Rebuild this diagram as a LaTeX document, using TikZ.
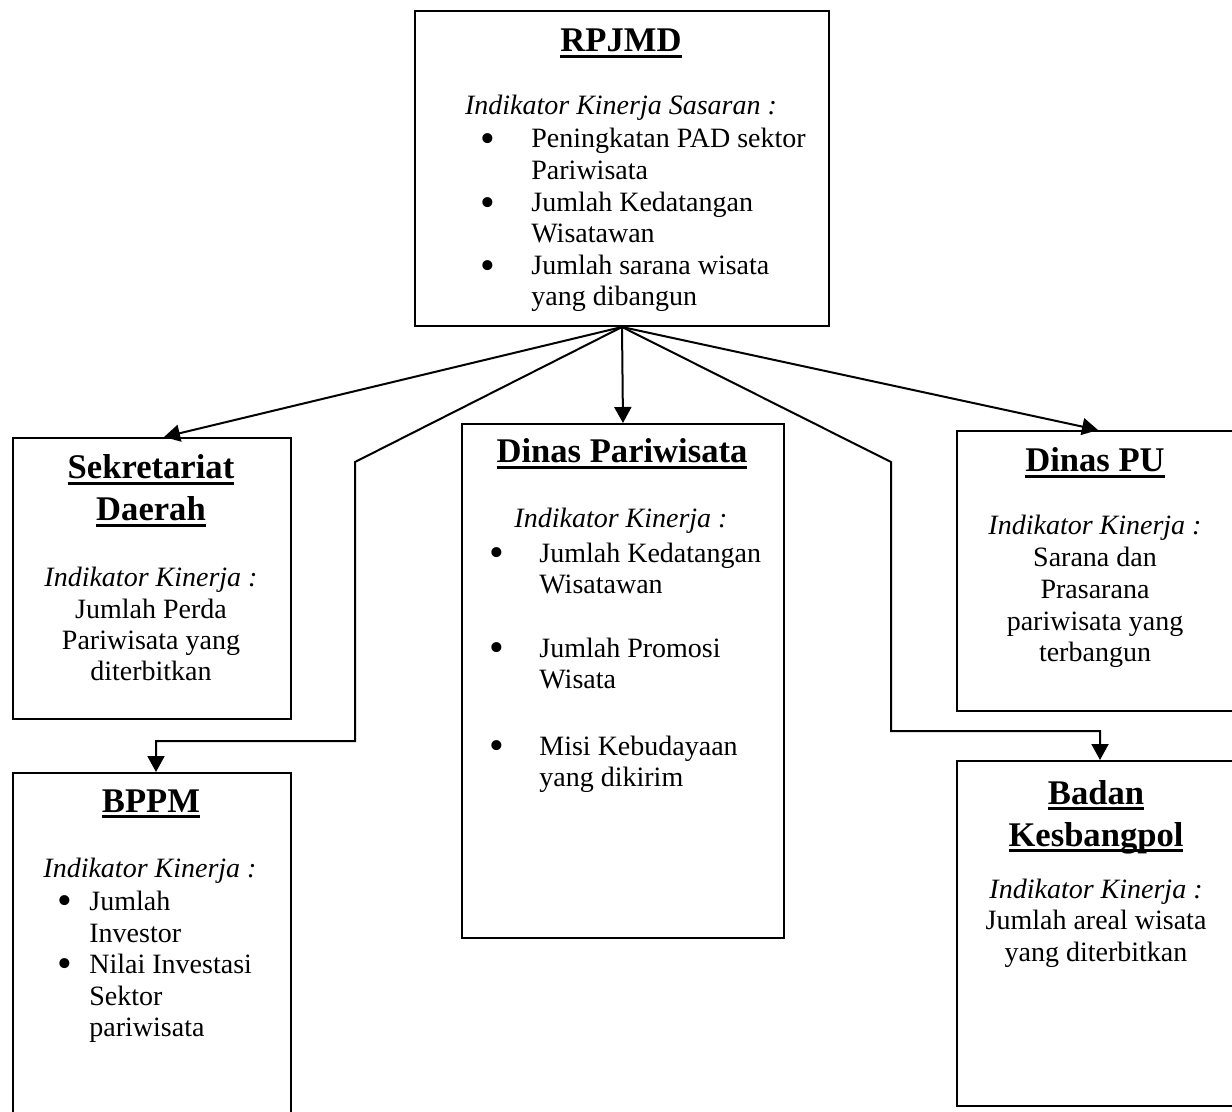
\documentclass[tikz,border=0pt]{standalone}
\usepackage{fontspec}
\setmainfont{Liberation Serif}
\usetikzlibrary{arrows.meta}

% bold heading with a heavier underline
\newcommand{\headul}[1]{\setbox0\hbox{\bfseries #1}\rlap{\rule[-2.8pt]{\wd0}{1.2pt}}\box0}

\tikzset{
  box/.style={draw, line width=1pt, inner sep=0pt, anchor=north west},
  conn/.style={line width=1pt, -{Triangle[length=8pt,width=8.5pt]}},
  ttl/.style={anchor=base, inner sep=0pt, font=\fontsize{17.3}{20}\selectfont},
  txt/.style={anchor=base, inner sep=0pt, font=\fontsize{14}{16}\selectfont},
  itx/.style={anchor=base, inner sep=0pt, font=\fontsize{14}{16}\selectfont\itshape},
  ltx/.style={anchor=base west, inner sep=0pt, font=\fontsize{14}{16}\selectfont},
  bul/.style={anchor=base, inner sep=0pt, yshift=-2.4pt, font=\fontsize{21}{21}\selectfont},
}

\begin{document}
\begin{tikzpicture}[x=0.5pt, y=-0.5pt]
\useasboundingbox (0,0) rectangle (1232,1112);
\clip (0,0) rectangle (1232,1112);

% ---------- boxes ----------
\node[box, minimum width=207pt, minimum height=157.5pt] (rpjmd) at (414,10) {};
\node[box, minimum width=139pt, minimum height=140.5pt] (sekda) at (12,437) {};
\node[box, minimum width=139pt, minimum height=190pt] (bppm) at (12,772) {};
\node[box, minimum width=161pt, minimum height=257pt] (dispar) at (461,423) {};
\node[box, minimum width=152pt, minimum height=140pt] (pu) at (956,430) {};
\node[box, minimum width=152pt, minimum height=172.5pt] (kesb) at (956,760) {};

% ---------- RPJMD ----------
\node[ttl] (r-t) at (621,52) {\headul{RPJMD}};
\node[itx] (r-i) at (621,115) {Indikator Kinerja Sasaran :};
\node[bul] (r-b1) at (488,148) {•};
\node[bul] (r-b2) at (488,212) {•};
\node[bul] (r-b3) at (488,275) {•};
\node[ltx] (r-1) at (531,148) {Peningkatan PAD sektor};
\node[ltx] (r-2) at (531,180) {Pariwisata};
\node[ltx] (r-3) at (531,212) {Jumlah Kedatangan};
\node[ltx] (r-4) at (531,243) {Wisatawan};
\node[ltx] (r-5) at (531,275) {Jumlah sarana wisata};
\node[ltx] (r-6) at (531,306) {yang dibangun};

% ---------- Sekretariat Daerah ----------
\node[ttl] (s-t1) at (151,479) {\headul{Sekretariat}};
\node[ttl] (s-t2) at (151,521) {\headul{Daerah}};
\node[itx] (s-i) at (151,587) {Indikator Kinerja :};
\node[txt] (s-1) at (151,618) {Jumlah Perda};
\node[txt] (s-2) at (151,649) {Pariwisata yang};
\node[txt] (s-3) at (151,680) {diterbitkan};

% ---------- BPPM ----------
\node[ttl] (p-t) at (151,812) {\headul{BPPM}};
\node[itx] (p-i) at (150,877) {Indikator Kinerja :};
\node[bul] (p-b1) at (65,910) {•};
\node[bul] (p-b2) at (65,973) {•};
\node[ltx] (p-1) at (89,910) {Jumlah};
\node[ltx] (p-2) at (89,942) {Investor};
\node[ltx] (p-3) at (89,973) {Nilai Investasi};
\node[ltx] (p-4) at (89,1005) {Sektor};
\node[ltx] (p-5) at (89,1036) {pariwisata};

% ---------- Dinas Pariwisata ----------
\node[ttl] (d-t) at (622,463) {\headul{Dinas Pariwisata}};
\node[itx] (d-i) at (621,528) {Indikator Kinerja :};
\node[bul] (d-b1) at (497,562) {•};
\node[bul] (d-b2) at (497,657) {•};
\node[bul] (d-b3) at (497,755) {•};
\node[ltx] (d-1) at (539,562) {Jumlah Kedatangan};
\node[ltx] (d-2) at (539,593) {Wisatawan};
\node[ltx] (d-3) at (539,657) {Jumlah Promosi};
\node[ltx] (d-4) at (539,688) {Wisata};
\node[ltx] (d-5) at (539,755) {Misi Kebudayaan};
\node[ltx] (d-6) at (539,786) {yang dikirim};

% ---------- Dinas PU ----------
\node[ttl] (u-t) at (1095,472) {\headul{Dinas PU}};
\node[itx] (u-i) at (1095,535) {Indikator Kinerja :};
\node[txt] (u-1) at (1095,567) {Sarana dan};
\node[txt] (u-2) at (1095,598) {Prasarana};
\node[txt] (u-3) at (1095,630) {pariwisata yang};
\node[txt] (u-4) at (1095,661) {terbangun};

% ---------- Badan Kesbangpol ----------
\node[ttl] (k-t1) at (1096,804) {\headul{Badan}};
\node[ttl] (k-t2) at (1096,846) {\headul{Kesbangpol}};
\node[itx] (k-i) at (1096,898) {Indikator Kinerja :};
\node[txt] (k-1) at (1096,929) {Jumlah areal wisata};
\node[txt] (k-2) at (1096,961) {yang diterbitkan};

% ---------- connectors ----------
\coordinate (bk1) at (355,462);
\coordinate (bk2) at (355,741);
\coordinate (kk1) at (891,462);
\coordinate (kk2) at (891,731);

\draw[conn] (rpjmd.south) -- ([xshift=6pt]sekda.north);
\draw[conn] (rpjmd.south) -- (dispar.north);
\draw[conn] (rpjmd.south) -- ([xshift=-5.5pt]pu.north);
\draw[conn] (rpjmd.south) -- (bk1) -- (bk2) -| ([xshift=2pt]bppm.north);
\draw[conn] (rpjmd.south) -- (kk1) -- (kk2) -| ([xshift=-4.5pt]kesb.north);
\end{tikzpicture}
\end{document}
